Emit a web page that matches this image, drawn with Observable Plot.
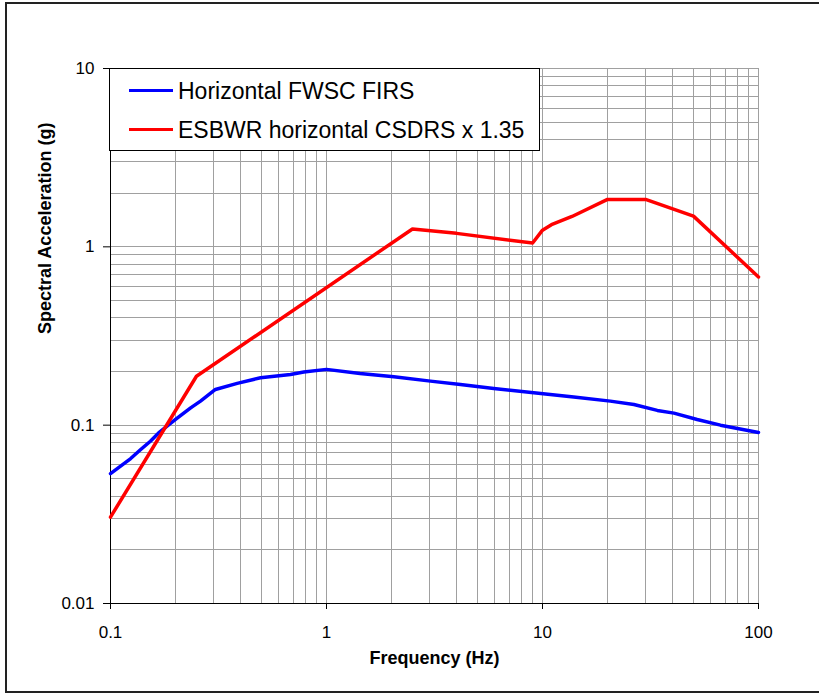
<!DOCTYPE html>
<html>
<head>
<meta charset="utf-8">
<script src="https://cdn.jsdelivr.net/npm/d3@7"></script>
<script src="https://cdn.jsdelivr.net/npm/@observablehq/plot@0.6"></script>
<style>
  body { margin: 0; background: #fff; }
  #wrap { position: relative; width: 819px; height: 694px; overflow: hidden;
          font-family: "Liberation Sans", Arial, sans-serif; }
  #border { position: absolute; left: 5px; top: 2px; width: 840px; height: 691px;
            border: 2px solid #222; box-sizing: border-box; pointer-events: none; }
  #chart { position: absolute; left: 0; top: 0; }
  #legend { position: absolute; left: 109px; top: 68px; width: 431px; height: 83px;
            border: 1px solid #000; background: #fff; box-sizing: border-box; }
  .row { position: absolute; left: 0; height: 22px; line-height: 22px; font-size: 23px;
         white-space: nowrap; color: #000; }
  .swatch { position: absolute; left: 19px; top: 9px; width: 44px; height: 3px; }
  .lab { position: absolute; left: 68px; top: 0; }
</style>
</head>
<body>
<div id="wrap">
  <div id="chart"></div>
  <div id="legend"></div>
  <div id="border"></div>
</div>
<script>
// Series: frequency (Hz) and spectral acceleration (g)
const seriesNames = ["Horizontal FWSC FIRS", "ESBWR horizontal CSDRS x 1.35"];
const seriesColors = ["#0000ff", "#ff0000"];

const firsFreq = [0.1, 0.124, 0.138, 0.153, 0.167, 0.2, 0.235, 0.261, 0.306, 0.386, 0.495,
                  0.681, 0.785, 1.0, 1.43, 2.05, 3.03, 4.17, 5.95, 9.11, 13.95, 20.6, 26.5,
                  34, 40.6, 52, 66.7, 100];
const firsAcc  = [0.0535, 0.065, 0.073, 0.0813, 0.0905, 0.1076, 0.125, 0.1364, 0.1586, 0.1715,
                  0.1845, 0.1926, 0.1985, 0.2055, 0.195, 0.1868, 0.1766, 0.1692, 0.1607, 0.152,
                  0.144, 0.1364, 0.1307, 0.121, 0.1168, 0.1076, 0.1, 0.091];

const csdrsFreq = [0.1, 0.25, 2.5, 4, 9, 10, 11, 13.7, 20, 30, 50, 100];
const csdrsAcc  = [0.0305, 0.188, 1.26, 1.19, 1.05, 1.24, 1.33, 1.48, 1.845, 1.845, 1.487, 0.678];

// Axes
const xTicks = [0.1, 1, 10, 100];
const xTickLabels = ["0.1", "1", "10", "100"];
const yTicks = [0.01, 0.1, 1, 10];
const yTickLabels = ["0.01", "0.1", "1", "10"];
const xTitle = "Frequency (Hz)";
const yTitle = "Spectral Acceleration (g)";

// Gridlines at every 1..9 multiple of each decade
const decadeGrid = (lo, hi) => {
  const out = [];
  for (let p = lo; p < hi; p++) for (let m = 1; m <= 9; m++) out.push(m * Math.pow(10, p));
  out.push(Math.pow(10, hi));
  return out.map(v => +v.toPrecision(6));
};
const xGrid = decadeGrid(-1, 2);
const yGrid = decadeGrid(-2, 1);

const fires = firsFreq.map((f, i) => ({f, a: firsAcc[i], s: seriesNames[0]}));
const csdrs = csdrsFreq.map((f, i) => ({f, a: csdrsAcc[i], s: seriesNames[1]}));

const plot = Plot.plot({
  width: 819,
  height: 694,
  marginLeft: 110,
  marginRight: 61,
  marginTop: 68,
  marginBottom: 91,
  style: {fontFamily: "'Liberation Sans', Arial, sans-serif", fontSize: "17px",
          background: "transparent", color: "#000", overflow: "visible"},
  x: {type: "log", domain: [0.1, 100]},
  y: {type: "log", domain: [0.01, 10]},
  marks: [
    Plot.ruleX(xGrid, {x: d => d, stroke: "#a0a0a0", strokeWidth: 1, shapeRendering: "crispEdges"}),
    Plot.ruleY(yGrid, {y: d => d, stroke: "#a0a0a0", strokeWidth: 1, shapeRendering: "crispEdges"}),
    Plot.ruleX([0.1], {stroke: "#000", strokeWidth: 1, shapeRendering: "crispEdges"}),
    Plot.ruleY([0.01], {stroke: "#000", strokeWidth: 1, shapeRendering: "crispEdges"}),
    Plot.axisX({ticks: xTicks, tickFormat: d => xTickLabels[xTicks.indexOf(d)],
                tickSize: 6, tickPadding: 16, label: null}),
    Plot.axisY({ticks: yTicks, tickFormat: d => yTickLabels[yTicks.indexOf(d)],
                tickSize: 7, tickPadding: 9, label: null}),
    Plot.line(fires, {x: "f", y: "a", stroke: seriesColors[0], strokeWidth: 3.5}),
    Plot.line(csdrs, {x: "f", y: "a", stroke: seriesColors[1], strokeWidth: 3.5}),
    Plot.text([xTitle], {text: d => d, frameAnchor: "bottom", dy: 60.5,
                         fontWeight: "bold", fontSize: 18}),
    Plot.text([yTitle], {text: d => d, frameAnchor: "left", rotate: -90, dx: -65, dy: -2,
                         fontWeight: "bold", fontSize: 18})
  ]
});
document.getElementById("chart").appendChild(plot);

// Legend
const legend = document.getElementById("legend");
seriesNames.forEach((name, i) => {
  const row = document.createElement("div");
  row.className = "row";
  row.style.top = (i === 0 ? 11.3 : 50.3) + "px";
  row.style.width = "100%";
  const sw = document.createElement("span");
  sw.className = "swatch";
  sw.style.background = seriesColors[i];
  const lab = document.createElement("span");
  lab.className = "lab";
  lab.textContent = name;
  row.appendChild(sw);
  row.appendChild(lab);
  legend.appendChild(row);
});
</script>
</body>
</html>
